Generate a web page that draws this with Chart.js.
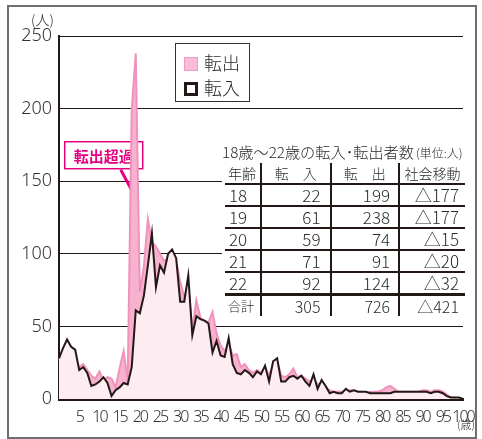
<!DOCTYPE html>
<html>
<head>
<meta charset="utf-8">
<script src="https://cdn.jsdelivr.net/npm/chart.js@4.4.1/dist/chart.umd.min.js"></script>
<style>
body{margin:0;background:#fff;font-family:"Noto Sans CJK JP","Noto Sans",sans-serif;color:#2a2a2a;}
#wrap{position:relative;width:482px;height:439px;overflow:hidden;}
#frame{position:absolute;left:7px;top:5px;width:466px;height:430px;border:2px solid #6e6e6e;pointer-events:none;}
#unitY{position:absolute;left:31px;top:9px;font-size:14px;font-weight:300;}
#unitX{position:absolute;left:457px;top:418px;font-size:11px;line-height:12px;font-weight:300;}
#legend{position:absolute;left:175px;top:43px;width:73px;height:57px;border:1.5px solid #333;background:#fff;}
.lg{position:absolute;left:8px;height:20px;font-size:18px;line-height:20px;font-weight:300;}
.lg i{display:inline-block;width:14px;height:14px;box-sizing:border-box;vertical-align:-1px;margin-right:6px;}
#tblbox{position:absolute;left:222px;top:138px;width:243px;height:182px;background:#fff;}
#tbltitle{position:absolute;left:0px;top:2px;font-size:15.2px;font-weight:300;white-space:nowrap;}
#tbltitle small{font-size:12px;margin-left:2px;}
table{position:absolute;left:3px;top:25px;border-collapse:collapse;font-weight:300;}
td{height:20px;padding:0;font-size:17px;line-height:20px;border-bottom:2px solid #231815;}
td+td{border-left:2px solid #231815;}
tr.hd td{font-size:14px;height:20px;}
tr.tot td{border-bottom:none;border-top:3px solid #231815;font-size:16px;}
</style>
</head>
<body>
<div id="wrap">
<canvas id="c" width="482" height="439"></canvas>
<div id="frame"></div>
<div id="unitY">(人)</div>
<div id="unitX">(歳)</div>
<div id="legend">
  <div class="lg" style="top:8px"><i style="background:#f8bcd6;border:1.5px solid #f39ac0"></i>転出</div>
  <div class="lg" style="top:33px"><i style="border:3px solid #231815;background:#fff"></i>転入</div>
</div>
<div id="tblbox">
  <div id="tbltitle">18歳～22歳の転入･転出者数<small>(単位:人)</small></div>
  <table id="tbl"></table>
</div>
</div>
<script>
// ages 0..100
const ages = Array.from({length: 101}, (_, i) => i);

// 転入 (black line)
const tennyu = [
  28, 35, 41, 36, 34, 20, 22, 18, 9, 10,
  12, 15, 11, 2, 6, 8, 11, 10, 22, 61,
  59, 71, 92, 114, 77, 92, 87, 100, 103, 97,
  67, 67, 85, 44, 57, 55, 54, 52, 32, 40,
  30, 29, 42, 24, 18, 17, 20, 18, 15, 19,
  17, 23, 12, 26, 28, 12, 12, 15, 16, 14,
  16, 12, 9, 17, 7, 13, 9, 4, 5, 4,
  4, 7, 5, 6, 5, 5, 5, 4, 4, 4,
  4, 4, 4, 5, 5, 5, 5, 5, 5, 5,
  5, 5, 4, 5, 5, 4, 2, 1, 1, 1,
  0
];

// 転出 (pink area)
const tenshutsu = [
  27, 30, 32, 27, 26, 22, 24, 20, 16, 14,
  19, 13, 15, 14, 8, 21, 33, 12, 199, 238,
  74, 91, 124, 108, 105, 100, 95, 97, 100, 95,
  81, 70, 78, 48, 68, 56, 54, 53, 60, 45,
  37, 33, 38, 30, 31, 22, 24, 20, 18, 20,
  18, 22, 16, 24, 26, 16, 15, 17, 21, 15,
  16, 14, 12, 14, 10, 11, 8, 6, 5, 5,
  5, 5, 6, 6, 5, 5, 4, 5, 5, 5,
  6, 8, 9, 7, 5, 5, 5, 5, 5, 5,
  6, 6, 5, 6, 6, 5, 3, 1, 1, 0,
  0
];

// table: 18歳～22歳
const tblAges = ['18', '19', '20', '21', '22'];
const tblIn = [22, 61, 59, 71, 92];
const tblOut = [199, 238, 74, 91, 124];
const tblNet = [177, 177, 15, 20, 32];
const tblTotal = [305, 726, 421];

function buildTable(){
  const colW = [33, 70, 69, 66];
  let h = '<tr class="hd">'
    + '<td style="width:' + colW[0] + 'px;padding-left:3px">年齢</td>'
    + '<td style="width:' + colW[1] + 'px;text-align:center">転　入</td>'
    + '<td style="width:' + colW[2] + 'px;text-align:center">転　出</td>'
    + '<td style="width:' + colW[3] + 'px;text-align:center">社会移動</td></tr>';
  for (let i = 0; i < tblAges.length; i++) {
    h += '<tr><td style="padding-left:4px">' + tblAges[i] + '</td>'
      + '<td style="text-align:right;padding-right:9px">' + tblIn[i] + '</td>'
      + '<td style="text-align:right;padding-right:8px">' + tblOut[i] + '</td>'
      + '<td style="text-align:right;padding-right:6px">△' + tblNet[i] + '</td></tr>';
  }
  h += '<tr class="tot"><td style="padding-left:3px;font-size:13px">合計</td>'
    + '<td style="text-align:right;padding-right:9px">' + tblTotal[0] + '</td>'
    + '<td style="text-align:right;padding-right:8px">' + tblTotal[1] + '</td>'
    + '<td style="text-align:right;padding-right:6px">△' + tblTotal[2] + '</td></tr>';
  document.getElementById('tbl').innerHTML = h;
}
buildTable();

// 転出超過 callout, drawn under the data
const callout = {
  id: 'callout',
  beforeDatasetsDraw(chart) {
    const {ctx, scales: {x, y}} = chart;
    const tx = x.getPixelForValue(18) + 3, ty = y.getPixelForValue(140);
    const bx = tx - 70, by = ty - 54, bw = 78, bh = 27;
    ctx.save();
    ctx.fillStyle = '#fff';
    ctx.fillRect(bx, by, bw, bh);
    ctx.strokeStyle = '#e4007f';
    ctx.lineWidth = 1.5;
    ctx.strokeRect(bx, by, bw, bh);
    ctx.lineWidth = 3;
    ctx.beginPath();
    ctx.moveTo(tx - 14, by + bh + 1);
    ctx.lineTo(tx, ty);
    ctx.stroke();
    ctx.fillStyle = '#e4007f';
    ctx.font = 'bold 15px "Noto Sans CJK JP"';
    ctx.textAlign = 'center';
    ctx.textBaseline = 'middle';
    ctx.fillText('転出超過', bx + bw / 2, by + bh / 2 + 1);
    ctx.restore();
  }
};

// x tick labels are set tight (condensed look)
const narrowX = {
  id: 'narrowX',
  beforeDraw(chart) {
    const sx = chart.scales.x;
    if (sx._narrow) return;
    const orig = sx.drawLabels;
    sx.drawLabels = function(area) {
      this.ctx.save();
      this.ctx.letterSpacing = '-2px';
      orig.call(this, area);
      this.ctx.restore();
    };
    sx._narrow = true;
  }
};

new Chart(document.getElementById('c'), {
  type: 'line',
  data: {
    labels: ages,
    datasets: [
      {
        label: '転入',
        data: tennyu,
        borderColor: '#231815',
        borderWidth: 2,
        backgroundColor: 'rgba(253,239,245,0.96)',
        fill: 'origin',
        order: 1,
        tension: 0,
        pointRadius: 0
      },
      {
        label: '転出',
        data: tenshutsu,
        borderColor: '#f192bb',
        borderWidth: 2,
        backgroundColor: '#f7b2cf',
        fill: 'origin',
        order: 2,
        tension: 0,
        pointRadius: 0
      }
    ]
  },
  options: {
    responsive: false,
    animation: false,
    layout: { padding: { left: 0, top: 36, right: 19, bottom: 0 } },
    plugins: { legend: { display: false }, tooltip: { enabled: false } },
    scales: {
      x: {
        type: 'category',
        offset: false,
        afterFit: s => { s.height = 40; },
        grid: { display: false },
        border: { display: true, color: '#231815', width: 3 },
        ticks: {
          autoSkip: false,
          maxRotation: 0,
          padding: 1,
          color: '#333',
          font: { family: '"Noto Sans"', size: 16, weight: '300' },
          callback: function(v) {
            const a = ages[v];
            return (a > 0 && a % 5 === 0) ? String(a) : null;
          }
        }
      },
      y: {
        min: 0,
        max: 250,
        afterFit: s => { s.width = 59; },
        grid: { color: '#231815', lineWidth: 1, drawTicks: false },
        border: { display: true, color: '#231815', width: 2 },
        ticks: {
          stepSize: 50,
          padding: 7,
          color: '#333',
          font: { family: '"Noto Sans"', size: 18, weight: '300' }
        }
      }
    }
  },
  plugins: [callout, narrowX]
});
</script>
</body>
</html>
